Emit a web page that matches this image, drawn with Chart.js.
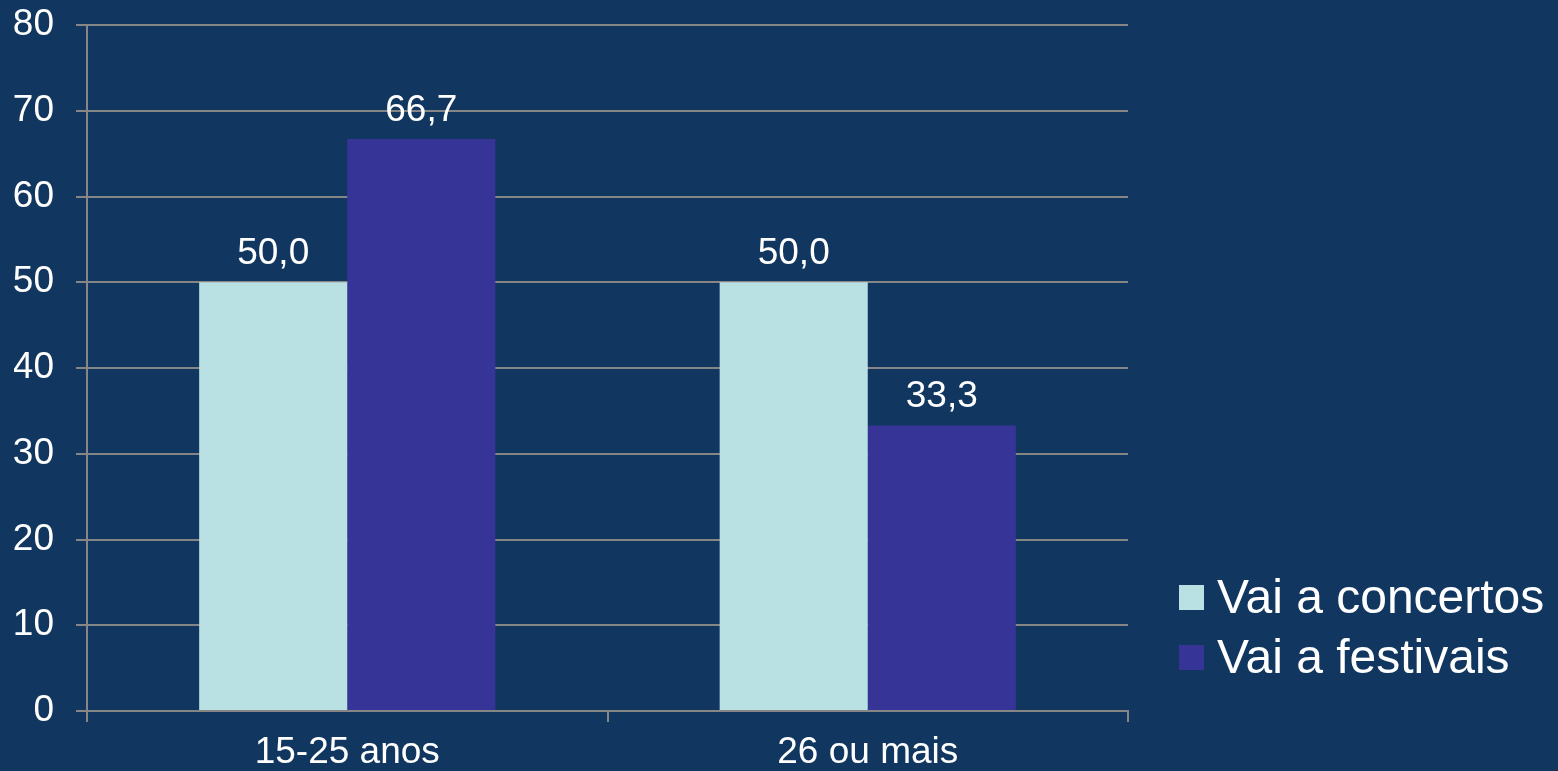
<!DOCTYPE html>
<html>
<head>
<meta charset="utf-8">
<script src="https://cdn.jsdelivr.net/npm/chart.js@4/dist/chart.umd.min.js"></script>
<style>
    html, body { margin: 0; padding: 0; background: #11365f; }
    #wrap { width: 1558px; height: 771px; }
</style>
</head>
<body>
<div id="wrap"><canvas id="ageChart" width="1558" height="771"></canvas></div>
<script>
// chart data
const categories = ['15-25 anos', '26 ou mais'];
const seriesNames = ['Vai a concertos', 'Vai a festivais'];
const concertos = [50.0, 50.0];
const festivais = [66.7, 33.3];
const seriesColors = ['#b9e0e3', '#363597'];

const gridColor = '#868686';
const fontFamily = "'Liberation Sans', Arial, sans-serif";

var formatValue = function (value) {
    return value.toFixed(1).replace('.', ',');
};

// value above each bar
const drawBarValues = {
    id: 'drawBarValues',
    afterDatasetsDraw: function (chart) {
        var ctx = chart.ctx;
        ctx.save();
        ctx.fillStyle = '#ffffff';
        ctx.font = '37px ' + fontFamily;
        ctx.textAlign = 'center';
        ctx.textBaseline = 'alphabetic';
        chart.data.datasets.forEach(function (dataset, i) {
            var meta = chart.getDatasetMeta(i);
            if (meta.hidden) return;
            meta.data.forEach(function (bar, index) {
                ctx.fillText(formatValue(dataset.data[index]), bar.x, bar.y - 18);
            });
        });
        ctx.restore();
    }
};

// legend at the lower right, like the original slide
const sideLegend = {
    id: 'sideLegend',
    afterDraw: function (chart) {
        var ctx = chart.ctx;
        var area = chart.chartArea;
        var left = area.right + 51;
        var top = 585;
        ctx.save();
        ctx.font = '48px ' + fontFamily;
        ctx.textBaseline = 'alphabetic';
        ctx.textAlign = 'left';
        chart.data.datasets.forEach(function (dataset, i) {
            var y = top + i * 60;
            ctx.fillStyle = dataset.backgroundColor;
            ctx.fillRect(left, y, 25, 25);
            ctx.fillStyle = '#ffffff';
            ctx.fillText(dataset.label, left + 38, y + 28);
        });
        ctx.restore();
    }
};

new Chart(document.getElementById('ageChart'), {
    type: 'bar',
    data: {
        labels: categories,
        datasets: [{
            label: seriesNames[0],
            data: concertos,
            backgroundColor: seriesColors[0],
            borderWidth: 0
        }, {
            label: seriesNames[1],
            data: festivais,
            backgroundColor: seriesColors[1],
            borderWidth: 0
        }]
    },
    options: {
        responsive: false,
        animation: false,
        events: [],
        layout: {
            padding: { left: 14, right: 430, top: 25, bottom: 0 }
        },
        categoryPercentage: 0.569,
        barPercentage: 1.0,
        plugins: {
            legend: { display: false },
            tooltip: { enabled: false }
        },
        scales: {
            x: {
                offset: true,
                afterFit: function (scale) { scale.height = 60; },
                grid: {
                    offset: true,
                    drawOnChartArea: false,
                    drawTicks: true,
                    tickLength: 11,
                    color: gridColor,
                    lineWidth: 2
                },
                border: { display: true, color: gridColor, width: 2 },
                ticks: {
                    color: '#ffffff',
                    font: { family: fontFamily, size: 37 },
                    padding: 9
                }
            },
            y: {
                min: 0,
                max: 80,
                afterFit: function (scale) {
                    scale.width = 73;
                    scale.paddingTop = 0;
                    scale.paddingBottom = 0;
                },
                grid: {
                    color: gridColor,
                    lineWidth: 2,
                    drawTicks: true,
                    tickLength: 11
                },
                border: { display: true, color: gridColor, width: 2 },
                ticks: {
                    stepSize: 10,
                    color: '#ffffff',
                    font: { family: fontFamily, size: 37 },
                    padding: 22
                }
            }
        }
    },
    plugins: [drawBarValues, sideLegend]
});
</script>
</body>
</html>
